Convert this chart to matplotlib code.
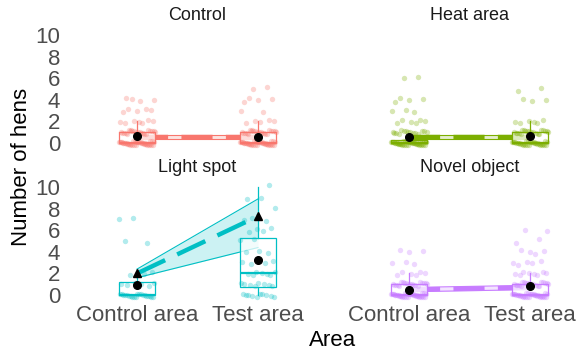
import numpy as np
import matplotlib
matplotlib.use('Agg')
import matplotlib.pyplot as plt

plt.rcParams['font.family'] = ['Liberation Sans', 'DejaVu Sans']

# ---- data ----
panels = ['Control', 'Heat area', 'Light spot', 'Novel object']
colors = ['#F8766D', '#7CAE00', '#00BFC4', '#C77CFF']
areas = ['Control area', 'Test area']
hen_values = [0, 1, 2, 3, 4, 5, 6, 7, 8, 9, 10]

# number of observations at each hen count (0..10)
control_ctrl = [40, 22, 7, 5, 4, 0, 0, 0, 0, 0, 0]
control_test = [40, 22, 5, 2, 4, 2, 0, 0, 0, 0, 0]
heat_ctrl = [45, 15, 6, 3, 4, 0, 2, 0, 0, 0, 0]
heat_test = [35, 20, 6, 0, 3, 2, 0, 0, 0, 0, 0]
light_ctrl = [20, 6, 4, 0, 0, 2, 0, 2, 0, 0, 0]
light_test = [10, 8, 7, 4, 3, 2, 4, 3, 1, 2, 1]
novel_ctrl = [40, 20, 6, 3, 3, 0, 0, 0, 0, 0, 0]
novel_test = [35, 20, 8, 5, 4, 2, 2, 0, 0, 0, 0]

# box stats: q1, median, q3, lower whisker, upper whisker
box_control = [(0, 0, 1, 0, 2), (0, 0, 1, 0, 2)]
box_heat = [(0, 0, 0.25, 0, 0.25), (0, 0, 1, 0, 2)]
box_light = [(0, 0, 1.25, 0, 2), (0.75, 2, 5.3, 0, 10)]
box_novel = [(0, 0, 1, 0, 2), (0, 0, 1, 0, 2)]

# observed means (black dots)
mean_control = [0.65, 0.6]
mean_heat = [0.55, 0.65]
mean_light = [0.93, 3.2]
mean_novel = [0.45, 0.8]

# model fit line with confidence band
fit_control = [0.55, 0.55]
fit_heat = [0.55, 0.55]
fit_light = [2.0, 7.3]
fit_novel = [0.5, 0.7]
lo_control = [0.35, 0.35]
lo_heat = [0.35, 0.35]
lo_light = [1.6, 4.4]
lo_novel = [0.3, 0.5]
hi_control = [0.75, 0.75]
hi_heat = [0.75, 0.75]
hi_light = [2.4, 8.9]
hi_novel = [0.7, 0.9]

counts = [(control_ctrl, control_test), (heat_ctrl, heat_test),
          (light_ctrl, light_test), (novel_ctrl, novel_test)]
boxes = [box_control, box_heat, box_light, box_novel]
means = [mean_control, mean_heat, mean_light, mean_novel]
fits = [fit_control, fit_heat, fit_light, fit_novel]
los = [lo_control, lo_heat, lo_light, lo_novel]
his = [hi_control, hi_heat, hi_light, hi_novel]
show_pred = [False, False, True, False]


def jitter_points(cnts, pos):
    # deterministic low-discrepancy jitter (positions only)
    xs, ys = [], []
    k = 0
    for v, n in zip(hen_values, cnts):
        for i in range(n):
            k += 1
            xs.append(pos + ((k * 0.6180339) % 1 - 0.5) * 0.3)
            ys.append(v + ((k * 0.7548777) % 1 - 0.5) * 0.4)
    return xs, ys


W, H = 577, 350
fig = plt.figure(figsize=(W / 100, H / 100), dpi=100)
ax_w = 211 / W
ax_h = 123.1 / H
lefts = [92 / W, 364 / W]
bottoms = [(H - 150.6) / H, (H - 302.6) / H]
title_y = [1 - 15 / H, 1 - 168 / H]
tick_col = '#4D4D4D'

for p in range(4):
    r, c = p // 2, p % 2
    ax = fig.add_axes([lefts[c], bottoms[r], ax_w, ax_h])
    col = colors[p]
    x = [0, 1]

    # fit band and dashed line
    ax.fill_between(x, los[p], his[p], color=col, alpha=0.2, lw=0, zorder=1)
    ax.plot(x, los[p], color=col, lw=0.8, zorder=1.5)
    ax.plot(x, his[p], color=col, lw=0.8, zorder=1.5)
    ax.plot(x, fits[p], color=col, lw=3.2, dashes=(7, 3), zorder=2,
            solid_capstyle='butt', dash_capstyle='butt')

    # boxplots
    stats = [{'q1': b[0], 'med': b[1], 'q3': b[2], 'whislo': b[3],
              'whishi': b[4], 'fliers': []} for b in boxes[p]]
    ax.bxp(stats, positions=x, widths=0.3, patch_artist=True, showcaps=False,
           boxprops=dict(facecolor=(1, 1, 1, 0.75), edgecolor=col, lw=0.9),
           medianprops=dict(color=col, lw=1.6),
           whiskerprops=dict(color=col, lw=0.9), zorder=3,
           manage_ticks=False)

    # jittered raw data
    for j in range(2):
        xs, ys = jitter_points(counts[p][j], x[j])
        ax.scatter(xs, ys, s=15, color=col, alpha=0.3, lw=0, zorder=4)

    ax.plot(x, means[p], 'o', color='black', ms=5.5, zorder=6)
    if show_pred[p]:
        ax.plot(x, fits[p], '^', color='black', ms=5.5, zorder=6)

    ax.set_xlim(-0.372, 1.372)
    ax.set_ylim(-0.7, 10.7)
    for s in ax.spines.values():
        s.set_visible(False)
    ax.tick_params(length=0, labelsize=16, labelcolor=tick_col)
    ax.set_yticks([0, 2, 4, 6, 8, 10])
    ax.set_xticks(x)
    if c == 0:
        ax.tick_params(axis='y', pad=23)
    else:
        ax.set_yticklabels([])
    if r == 1:
        ax.set_xticklabels(areas)
        ax.tick_params(axis='x', pad=2)
    else:
        ax.set_xticklabels([])

    fig.text(lefts[c] + ax_w / 2, title_y[r], panels[p], ha='center',
             va='center', fontsize=13, color='#1A1A1A')

fig.text(333 / W, 10 / H, 'Area', ha='center', va='center', fontsize=16)
fig.text(22 / W, 1 - 167 / H, 'Number of hens', ha='center', va='center',
         rotation=90, fontsize=16)

fig.savefig('out.png', dpi=100)
